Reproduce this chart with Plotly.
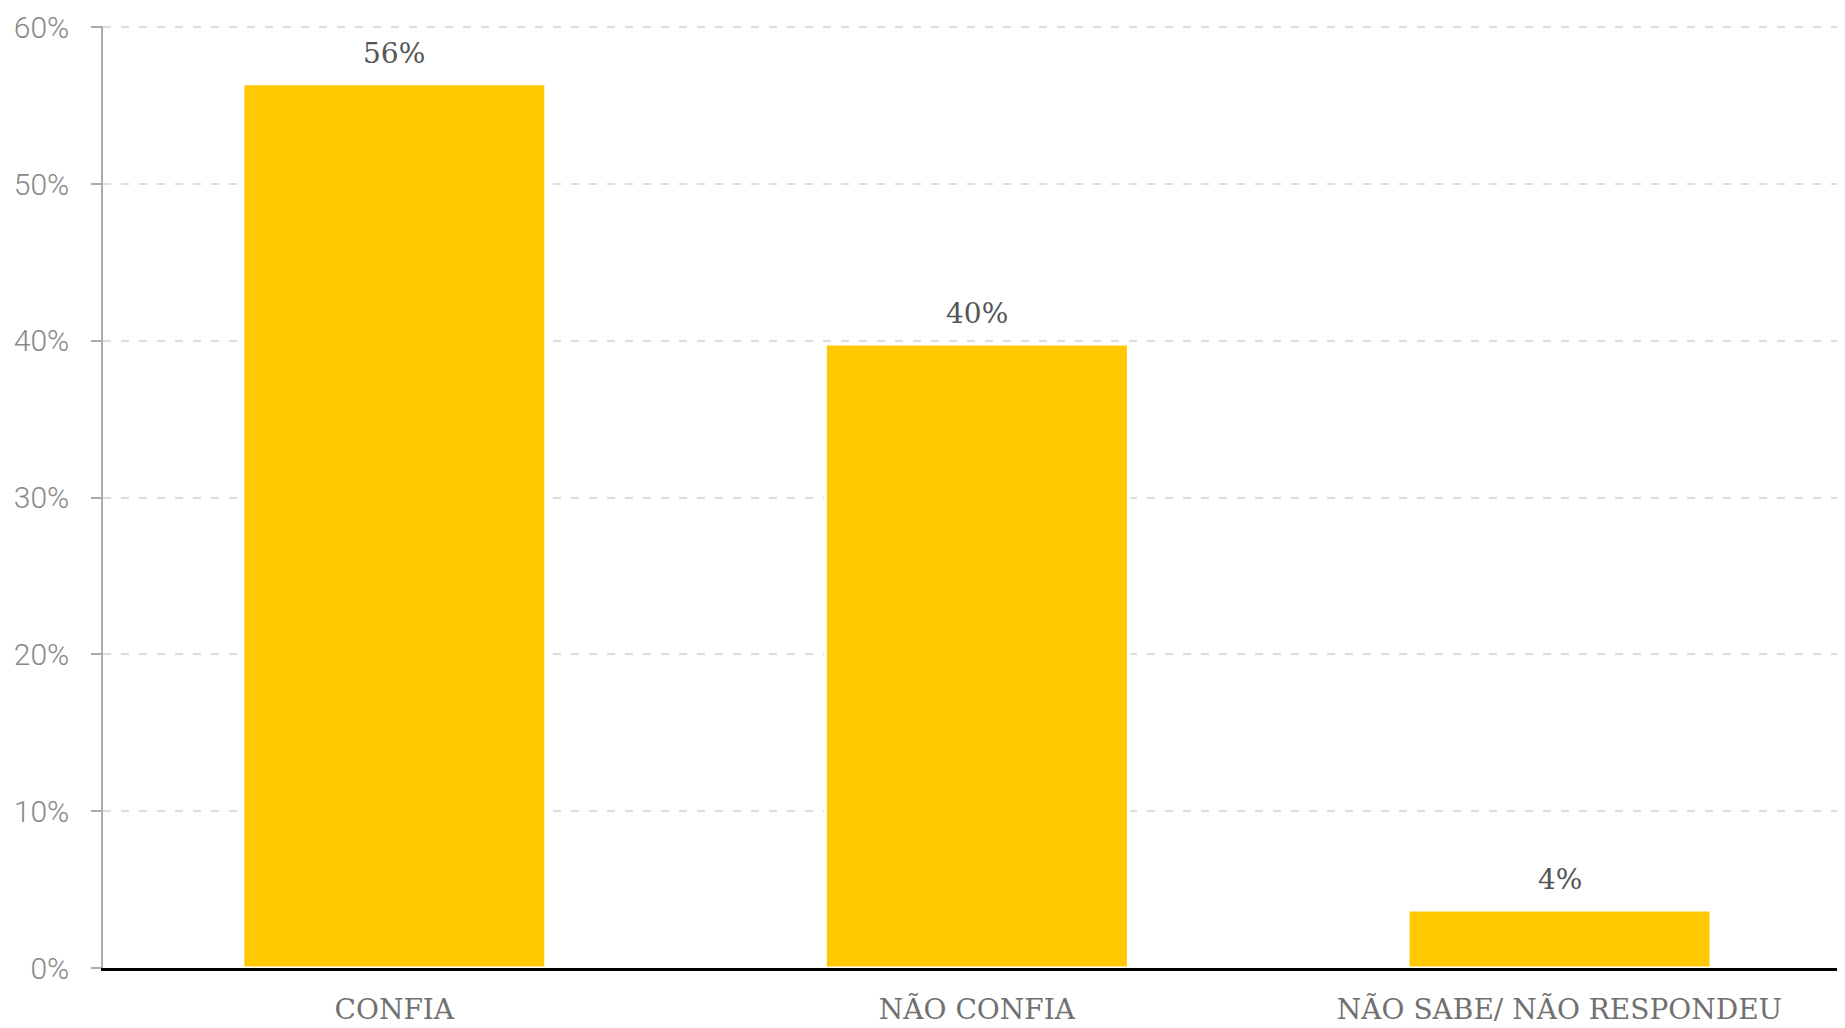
import plotly.graph_objects as go

categories = ["CONFIA", "NÃO CONFIA", "NÃO SABE/ NÃO RESPONDEU"]
values = [56.4, 39.8, 3.7]
labels = ["56%", "40%", "4%"]
y_ticks = [0, 10, 20, 30, 40, 50, 60]
y_ticktext = [f"{t}%" for t in y_ticks]

BAR = "#FFC800"
SERIF = "Roboto Slab, DejaVu Serif, serif"

fig = go.Figure()
fig.add_trace(go.Bar(
    x=categories, y=values, width=0.52,
    marker=dict(color=BAR, line=dict(color="white", width=3)),
    hoverinfo="skip",
))

for c, v, t in zip(categories, values, labels):
    fig.add_annotation(x=c, y=v, text=t, showarrow=False, yanchor="bottom",
                       yshift=12, font=dict(family=SERIF, size=28, color="#555555"))

# page body has an 8px margin, so the figure is sized to fit the window
fig.update_layout(
    width=1837, height=1020,
    margin=dict(l=95, r=0, t=18, b=60),
    paper_bgcolor="white", plot_bgcolor="white",
    showlegend=False,
)
fig.update_xaxes(
    showline=True, linecolor="#000000", linewidth=3,
    ticks="", tickfont=dict(family=SERIF, size=28, color="#707070"),
    ticklabelstandoff=14, automargin=False,
    range=[-0.5, 2.49],
)
fig.update_yaxes(
    range=[0, 60.08], tickvals=y_ticks, ticktext=y_ticktext,
    showgrid=True, gridcolor="#DDDDDD", gridwidth=2, griddash="8px,10px",
    showline=True, linecolor="#AAAAAA", linewidth=1.5,
    ticks="outside", ticklen=10, tickcolor="#AAAAAA", tickwidth=1.5,
    tickfont=dict(family="Roboto", size=30, color="#888888", weight=300),
    ticklabelstandoff=16, automargin=False, zeroline=False,
)

fig.write_html("out.html")
